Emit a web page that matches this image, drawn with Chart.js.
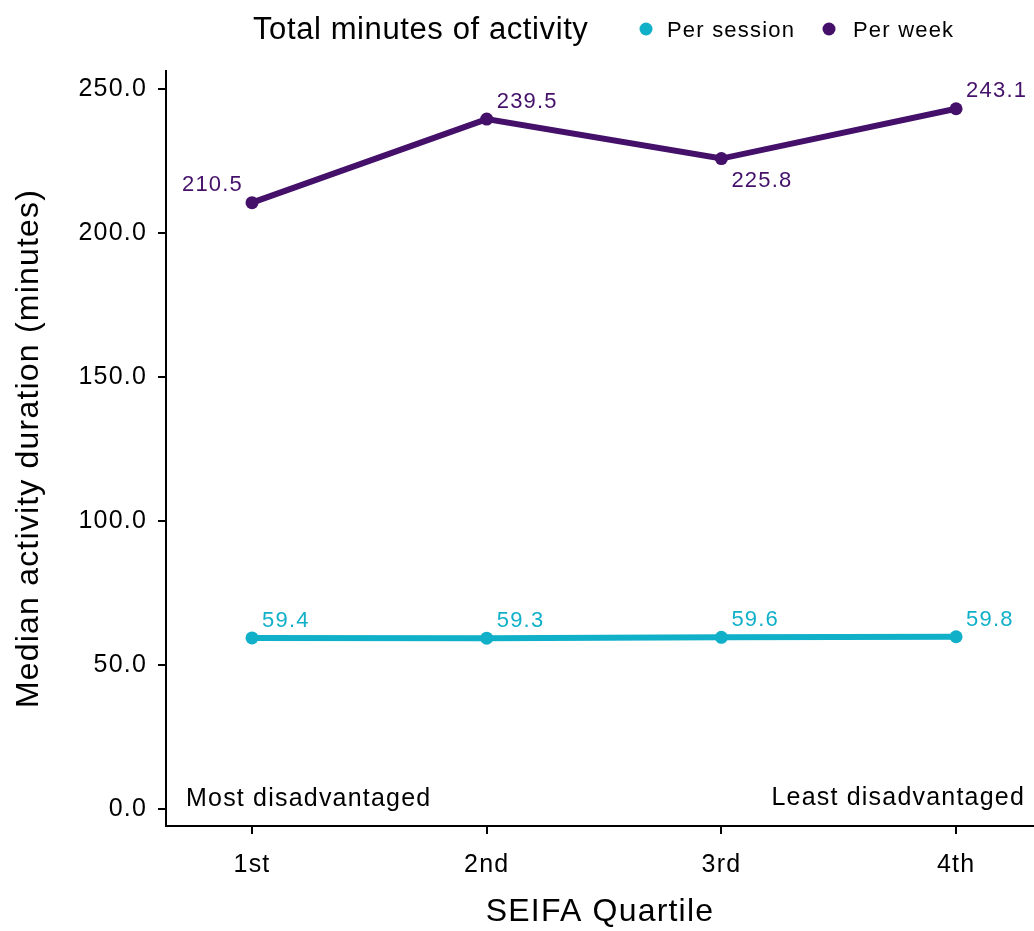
<!DOCTYPE html>
<html>
<head>
<meta charset="utf-8">
<script src="https://cdn.jsdelivr.net/npm/chart.js@4/dist/chart.umd.min.js"></script>
<style>
  html, body { margin: 0; padding: 0; background: #ffffff; }
  #wrap { width: 1034px; height: 931px; }
</style>
</head>
<body>
<div id="wrap"><canvas id="c" width="1034" height="931" style="width:1034px;height:931px"></canvas></div>
<script>
// ---- data ----
const quartiles = ['1st', '2nd', '3rd', '4th'];
const perSession = [59.4, 59.3, 59.6, 59.8];
const perWeek = [210.5, 239.5, 225.8, 243.1];
const yTickValues = [0, 50, 100, 150, 200, 250];
const seriesNames = ['Per session', 'Per week'];
const legendTitle = 'Total minutes of activity';
const xTitle = 'SEIFA Quartile';
const yTitle = 'Median activity duration (minutes)';
const leftNote = 'Most disadvantaged';
const rightNote = 'Least disadvantaged';

// ---- styling ----
const CYAN = '#10B0C9';
const PURPLE = '#44106A';
const FONT = '"Liberation Sans", Arial, sans-serif';
// label placement per point: [dx, dy, align]
const sessionLabelPlace = [[10, -11, 'left'], [10, -11, 'left'], [10, -11, 'left'], [10, -11, 'left']];
const weekLabelPlace = [[-9, -12, 'right'], [10, -11, 'left'], [10, 28, 'left'], [10, -12, 'left']];

Chart.defaults.font.family = FONT;
Chart.defaults.color = '#000';

const toPoints = arr => arr.map((v, i) => ({ x: i + 1, y: v }));

const spacingPlugin = {
  id: 'spacing',
  beforeDraw(chart) { chart.ctx.letterSpacing = '1.2px'; }
};

const labelPlugin = {
  id: 'pointLabels',
  afterDatasetsDraw(chart) {
    const ctx = chart.ctx;
    const places = [sessionLabelPlace, weekLabelPlace];
    const values = [perSession, perWeek];
    ctx.save();
    ctx.letterSpacing = '1.2px';
    ctx.font = '22px ' + FONT;
    ctx.textBaseline = 'alphabetic';
    chart.data.datasets.forEach((ds, di) => {
      const meta = chart.getDatasetMeta(di);
      ctx.fillStyle = ds.borderColor;
      meta.data.forEach((pt, i) => {
        const p = places[di][i];
        ctx.textAlign = p[2];
        ctx.fillText(values[di][i].toFixed(1), pt.x + p[0], pt.y + p[1]);
      });
    });
    ctx.restore();
  },
  afterDraw(chart) {
    const ctx = chart.ctx;
    const area = chart.chartArea;
    ctx.save();
    ctx.letterSpacing = '1.2px';
    ctx.textBaseline = 'alphabetic';
    ctx.fillStyle = '#000';
    // notes inside plot
    ctx.font = '25px ' + FONT;
    ctx.textAlign = 'left';
    ctx.fillText(leftNote, area.left + 20, area.bottom - 20);
    ctx.textAlign = 'right';
    ctx.fillText(rightNote, area.right - 9, area.bottom - 21);
    // legend
    ctx.textAlign = 'left';
    ctx.letterSpacing = '0.6px';
    ctx.font = '31px ' + FONT;
    ctx.fillText(legendTitle, 253, 39);
    ctx.letterSpacing = '1.2px';
    ctx.font = '22px ' + FONT;
    const items = [[646, 667, CYAN, seriesNames[0]], [829, 853, PURPLE, seriesNames[1]]];
    items.forEach(it => {
      ctx.fillStyle = it[2];
      ctx.beginPath();
      ctx.arc(it[0], 29, 6.5, 0, Math.PI * 2);
      ctx.fill();
      ctx.fillStyle = '#000';
      ctx.fillText(it[3], it[1], 37);
    });
    ctx.restore();
  }
};

new Chart(document.getElementById('c'), {
  type: 'line',
  data: {
    datasets: [
      {
        label: seriesNames[0],
        data: toPoints(perSession),
        borderColor: CYAN,
        backgroundColor: CYAN,
        borderWidth: 6,
        pointRadius: 6.5,
        pointHoverRadius: 6.5,
        pointBorderWidth: 0,
        tension: 0
      },
      {
        label: seriesNames[1],
        data: toPoints(perWeek),
        borderColor: PURPLE,
        backgroundColor: PURPLE,
        borderWidth: 6,
        pointRadius: 6.5,
        pointHoverRadius: 6.5,
        pointBorderWidth: 0,
        tension: 0
      }
    ]
  },
  options: {
    responsive: false,
    animation: false,
    devicePixelRatio: 1,
    layout: { autoPadding: false, padding: { top: 71, left: 0, right: 0, bottom: 0 } },
    plugins: {
      legend: { display: false },
      title: { display: false },
      tooltip: { enabled: false }
    },
    scales: {
      x: {
        type: 'linear',
        min: 0.6335,
        max: 4.332,
        afterBuildTicks(scale) { scale.ticks = quartiles.map((q, i) => ({ value: i + 1 })); },
        afterFit(scale) { scale.height = 105; scale.paddingLeft = 0; scale.paddingRight = 0; },
        ticks: {
          autoSkip: false,
          maxRotation: 0,
          minRotation: 0,
          padding: 16,
          font: { size: 25 },
          color: '#000',
          callback: v => quartiles[Math.round(v) - 1]
        },
        grid: { drawOnChartArea: false, drawTicks: true, tickLength: 8, color: '#000', lineWidth: 2 },
        border: { display: true, color: '#000', width: 2 },
        title: { display: true, text: xTitle, font: { size: 32 }, color: '#000', padding: { top: 0, bottom: 0 } }
      },
      y: {
        type: 'linear',
        min: -5.9,
        max: 256.2,
        afterBuildTicks(scale) { scale.ticks = yTickValues.map(v => ({ value: v })); },
        afterFit(scale) { scale.width = 166; scale.paddingTop = 0; scale.paddingBottom = 0; },
        ticks: {
          padding: 11,
          font: { size: 25 },
          color: '#000',
          callback: v => Number(v).toFixed(1)
        },
        grid: { drawOnChartArea: false, drawTicks: true, tickLength: 8, color: '#000', lineWidth: 2 },
        border: { display: true, color: '#000', width: 2 },
        title: { display: true, text: yTitle, font: { size: 32 }, color: '#000', padding: { top: 10, bottom: 0 } }
      }
    }
  },
  plugins: [spacingPlugin, labelPlugin]
});
</script>
</body>
</html>
